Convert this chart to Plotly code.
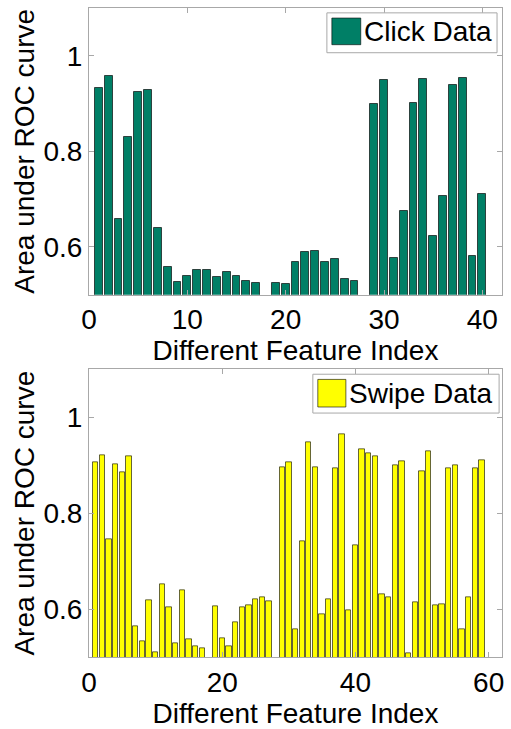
import plotly.graph_objects as go

# Area under ROC curve per feature, click data (features 1-40)
click_idx = list(range(1, 41))
click_auc = [
    0.933, 0.958, 0.658, 0.831, 0.925, 0.928, 0.640, 0.557, 0.526, 0.539,
    0.551, 0.551, 0.536, 0.548, 0.539, 0.528, 0.524, 0.490, 0.524, 0.522,
    0.569, 0.589, 0.592, 0.569, 0.574, 0.533, 0.529, 0.490, 0.899, 0.949,
    0.577, 0.676, 0.902, 0.951, 0.623, 0.707, 0.938, 0.954, 0.580, 0.711,
]

# Area under ROC curve per feature, swipe data (features 1-59)
swipe_idx = list(range(1, 60))
swipe_auc = [
    0.905, 0.921, 0.746, 0.902, 0.886, 0.919, 0.565, 0.533, 0.619, 0.510,
    0.651, 0.603, 0.529, 0.639, 0.537, 0.522, 0.519, 0.490, 0.606, 0.539,
    0.522, 0.572, 0.603, 0.608, 0.620, 0.624, 0.617, 0.490, 0.896, 0.906,
    0.557, 0.741, 0.947, 0.896, 0.588, 0.621, 0.893, 0.965, 0.597, 0.732,
    0.933, 0.925, 0.918, 0.630, 0.624, 0.899, 0.908, 0.507, 0.615, 0.888,
    0.930, 0.607, 0.610, 0.893, 0.900, 0.557, 0.625, 0.893, 0.911,
]

y_ticks = [0.6, 0.8, 1.0]
y_tick_text = ["0.6", "0.8", "1"]
click_x_ticks = [0, 10, 20, 30, 40]
swipe_x_ticks = [0, 20, 40, 60]

CLICK_COLOR = "#007f66"
SWIPE_COLOR = "#ffff00"
AXIS_GRAY = "#a8a8a8"
FONT = "Liberation Sans, Arial, sans-serif"
FS = 28

fig = go.Figure()
fig.add_trace(go.Bar(
    x=click_idx, y=click_auc, width=0.8, name="Click Data",
    marker=dict(color=CLICK_COLOR, line=dict(color="rgba(0,0,0,0.65)", width=1)),
    xaxis="x", yaxis="y", showlegend=False,
))
fig.add_trace(go.Bar(
    x=swipe_idx, y=swipe_auc, width=0.8, name="Swipe Data",
    marker=dict(color=SWIPE_COLOR, line=dict(color="rgba(0,0,0,0.6)", width=1)),
    xaxis="x2", yaxis="y2", showlegend=False,
))

axis_common = dict(
    showline=True, linecolor=AXIS_GRAY, linewidth=1, mirror="ticks",
    ticks="inside", ticklen=5, tickcolor=AXIS_GRAY, tickwidth=1,
    showgrid=False, zeroline=False,
    tickfont=dict(family=FONT, size=FS, color="black"),
)

top_dom = [(659 - 295) / 652, 1.0]
bot_dom = [0.0, (659 - 370) / 652]

fig.update_layout(
    width=511, height=729,
    margin=dict(l=89, r=7, t=7, b=70),
    paper_bgcolor="white", plot_bgcolor="white",
    bargap=0,
    xaxis=dict(axis_common, domain=[0, 1], range=[0, 42], anchor="y",
               tickvals=click_x_ticks,
               title=dict(text="Different Feature Index", standoff=5,
                          font=dict(family=FONT, size=FS, color="black"))),
    yaxis=dict(axis_common, domain=top_dom, range=[0.5, 1.1], anchor="x",
               tickvals=y_ticks, ticktext=y_tick_text,
               title=dict(text="Area under ROC curve", standoff=0,
                          font=dict(family=FONT, size=FS, color="black"))),
    xaxis2=dict(axis_common, domain=[0, 1], range=[0, 62], anchor="y2",
                tickvals=swipe_x_ticks,
                title=dict(text="Different Feature Index", standoff=5,
                           font=dict(family=FONT, size=FS, color="black"))),
    yaxis2=dict(axis_common, domain=bot_dom, range=[0.5, 1.1], anchor="x2",
                tickvals=y_ticks, ticktext=y_tick_text,
                title=dict(text="Area under ROC curve", standoff=0,
                           font=dict(family=FONT, size=FS, color="black"))),
)


def add_key(xref, yref, box, swatch, color, label, text_x):
    """Boxed legend key drawn in axis-domain coordinates."""
    fig.add_shape(type="rect", xref=xref, yref=yref,
                  x0=box[0], x1=box[1], y0=box[2], y1=box[3],
                  fillcolor="white", line=dict(color=AXIS_GRAY, width=1), layer="above")
    fig.add_shape(type="rect", xref=xref, yref=yref,
                  x0=swatch[0], x1=swatch[1], y0=swatch[2], y1=swatch[3],
                  fillcolor=color, line=dict(color="rgba(0,0,0,0.6)", width=1), layer="above")
    fig.add_annotation(xref=xref, yref=yref, x=text_x, y=(swatch[2] + swatch[3]) / 2,
                       text=label, showarrow=False, xanchor="left", yanchor="middle",
                       font=dict(family=FONT, size=FS, color="black"))


add_key("x domain", "y domain", (0.576, 0.988, 0.844, 0.983),
        (0.588, 0.658, 0.872, 0.965), CLICK_COLOR, "Click Data", 0.660)
add_key("x2 domain", "y2 domain", (0.542, 0.993, 0.848, 0.983),
        (0.554, 0.622, 0.869, 0.965), SWIPE_COLOR, "Swipe Data", 0.624)

fig.write_html("out.html")
